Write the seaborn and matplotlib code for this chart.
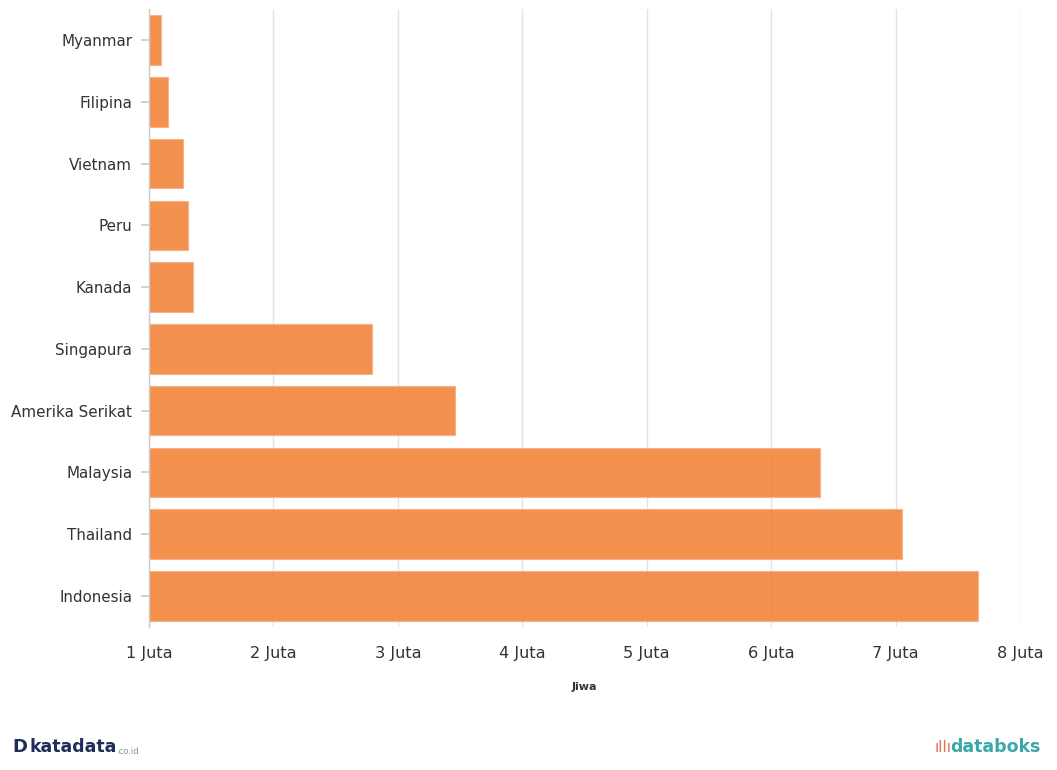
import matplotlib
matplotlib.use("Agg")
import matplotlib.pyplot as plt
import seaborn as sns
import pandas as pd

countries = ["Myanmar", "Filipina", "Vietnam", "Peru", "Kanada", "Singapura",
             "Amerika Serikat", "Malaysia", "Thailand", "Indonesia"]
values = [1.10, 1.15, 1.27, 1.31, 1.35, 2.79, 3.46, 6.39, 7.05, 7.66]  # juta jiwa
xticks = [1, 2, 3, 4, 5, 6, 7, 8]
xticklabels = ["1 Juta", "2 Juta", "3 Juta", "4 Juta", "5 Juta", "6 Juta", "7 Juta", "8 Juta"]

df = pd.DataFrame({"negara": countries, "jiwa": values})

sns.set_theme(style="white")
plt.rcParams["font.family"] = ["DejaVu Sans"]

fig = plt.figure(figsize=(10.57, 7.7), dpi=100)
ax = fig.add_axes([0.141, 0.186, 0.824, 0.802])

for x in xticks:
    ax.axvline(x, color="#e3e3e3", lw=1, zorder=0)

sns.barplot(data=df, x="jiwa", y="negara", orient="h", color="#F3853B",
            saturation=1, width=0.8, edgecolor="#F7B08A", linewidth=0.8,
            alpha=0.9, ax=ax, zorder=2)

ax.set_xlim(1, 8)
ax.set_ylim(9.5, -0.5)
ax.set_xticks(xticks)
ax.set_xticklabels(xticklabels)

for s in ["top", "right", "bottom"]:
    ax.spines[s].set_visible(False)
ax.spines["left"].set_color("#cccccc")
ax.spines["left"].set_linewidth(1)
ax.spines["left"].set_zorder(3)

ax.tick_params(axis="y", length=6, color="#cccccc", labelsize=10.9,
               labelcolor="#333333", pad=6, left=True)
ax.tick_params(axis="x", length=0, labelsize=11.6, labelcolor="#333333", pad=14)
ax.set_ylabel("")
ax.set_xlabel("Jiwa", fontsize=8, fontweight="bold", color="#333333", labelpad=15)

fig.text(0.012, 0.018, "D", fontsize=13, fontweight="bold", color="#1f2d5a", va="bottom")
fig.text(0.028, 0.018, "katadata", fontsize=12.5, fontweight="bold", color="#1f2d5a", va="bottom")
fig.text(0.110, 0.018, ".co.id", fontsize=6, color="#8090b0", va="bottom")
fig.text(0.884, 0.02, "ıllı", fontsize=11, color="#e8735a", va="bottom")
fig.text(0.899, 0.018, "databoks", fontsize=12.5, fontweight="bold", color="#3aa7a8", va="bottom")

fig.savefig("out.png", dpi=100)
